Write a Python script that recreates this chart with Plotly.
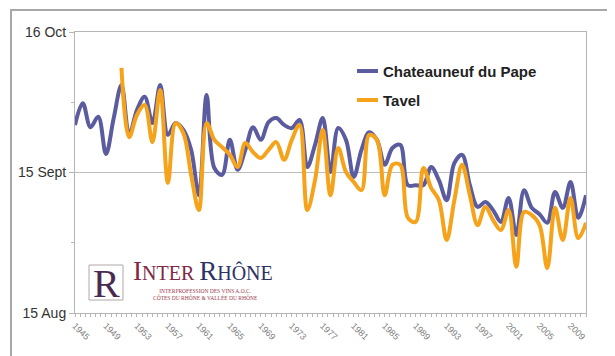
import plotly.graph_objects as go

# Days after 15 August for the start of harvest
years_cdp = list(range(1945, 2012))
chateauneuf = [
    41.5, 46.3, 41.0, 43.3, 35.1, 43.0, 50.3, 39.3, 44.8, 47.7,   # 1945-1954
    41.9, 50.3, 39.3, 41.9, 40.4, 36.0, 26.0, 48.1, 32.0, 30.5,   # 1955-1964
    38.2, 31.6, 36.0, 41.0, 38.2, 42.1, 43.0, 41.5, 40.8, 42.6,   # 1965-1974
    32.2, 37.1, 43.0, 31.1, 40.8, 38.2, 30.0, 36.0, 39.9, 38.2,   # 1975-1984
    32.7, 36.4, 37.1, 28.2, 28.2, 28.2, 32.2, 29.3, 24.9, 33.1,   # 1985-1994
    34.9, 28.2, 23.4, 24.5, 22.7, 20.1, 25.4, 17.2, 27.1, 23.2,   # 1995-2004
    21.8, 19.9, 26.7, 23.2, 28.9, 21.0, 26.0,                     # 2005-2011
]
years_tavel = list(range(1951, 2012))
tavel = [
    54.1, 38.8, 43.7, 45.9,                                       # 1951-1954
    37.7, 49.2, 28.7, 41.9, 39.7, 30.5, 22.7, 41.9, 38.2, 36.6,   # 1955-1964
    34.9, 32.2, 37.5, 35.5, 34.2, 36.0, 37.7, 33.8, 38.2, 41.5,   # 1965-1974
    22.7, 29.3, 40.4, 26.0, 36.4, 31.1, 28.9, 27.1, 39.3, 38.2,   # 1975-1984
    26.0, 32.7, 32.7, 21.0, 20.1, 32.0, 27.6, 24.9, 16.1, 24.9,   # 1985-1994
    32.7, 26.0, 19.4, 23.4, 20.5, 18.3, 22.7, 10.2, 22.3, 21.6,   # 1995-2004
    19.4, 9.9, 23.2, 16.1, 25.4, 16.5, 19.9,                      # 2005-2011
]
series_names = ["Chateauneuf du Pape", "Tavel"]
y_tickvals = [0, 31, 62]
y_ticktext = ["15 Aug", "15 Sept", "16 Oct"]
x_tickvals = list(range(1945, 2010, 4))

BLUE = "#5b5b9f"
ORANGE = "#f6a31c"
colors = [BLUE, ORANGE]

fig = go.Figure()
fig.add_trace(go.Scatter(
    x=years_cdp, y=chateauneuf, mode="lines", name=series_names[0],
    line=dict(color=BLUE, width=4, shape="spline", smoothing=1.0),
))
fig.add_trace(go.Scatter(
    x=years_tavel, y=tavel, mode="lines", name=series_names[1],
    line=dict(color=ORANGE, width=4, shape="spline", smoothing=1.0),
))

# page body adds an 8px offset; plot area should land at x 75..586, y 32..313
fig.update_layout(
    width=615, height=356,
    margin=dict(l=67, r=37, t=24, b=51, autoexpand=False),
    paper_bgcolor="white", plot_bgcolor="white",
    font=dict(family="Liberation Sans, Arial, sans-serif", color="#333"),
    showlegend=False,
    xaxis=dict(
        range=[1945, 2011], tickmode="array", tickvals=x_tickvals,
        ticktext=[str(v) for v in x_tickvals], tickangle=45,
        tickfont=dict(size=9, color="#808080"),
        showgrid=False, zeroline=False, automargin=False,
        showline=True, linecolor="#b5b5b5", linewidth=1, mirror=True,
        ticks="outside", ticklen=3, tickcolor="#b5b5b5",
        minor=dict(dtick=2/3, tick0=1945, ticks="outside", ticklen=3, tickcolor="#b5b5b5", showgrid=False),
        fixedrange=True,
    ),
    yaxis=dict(
        range=[0, 62], tickmode="array", tickvals=y_tickvals, ticktext=y_ticktext,
        tickfont=dict(size=14, color="#333"),
        showgrid=True, gridcolor="#bdbdbd", gridwidth=1, zeroline=False, automargin=False,
        showline=True, linecolor="#b5b5b5", linewidth=1, mirror=True,
        ticks="outside", ticklen=5, tickcolor="#b5b5b5",
        minor=dict(tickvals=[15.5, 46.5], ticks="outside", ticklen=3, tickcolor="#b5b5b5", showgrid=False),
        fixedrange=True,
    ),
)

W, H = 511.0, 281.0
def px(x):
    return (x - 75) / W
def py(y):
    return (313 - y) / H

shapes = [
    # outer frame (cut off at right and bottom)
    dict(type="rect", xref="paper", yref="paper", x0=px(11), x1=px(640), y0=py(380), y1=py(10),
         line=dict(color="#a8a8a8", width=2), fillcolor="rgba(0,0,0,0)", layer="below"),
    # logo box
    dict(type="rect", xref="paper", yref="paper", x0=px(89), x1=px(123), y0=py(300), y1=py(265),
         line=dict(color="#b0a8a8", width=1), fillcolor="white"),
]
ann = []
# legend (manual, to match the original's short keys)
for i, (nm, col) in enumerate(zip(series_names, colors)):
    yy = 71 + 29 * i
    shapes.append(dict(type="line", xref="paper", yref="paper", x0=px(357), x1=px(378),
                       y0=py(yy), y1=py(yy), line=dict(color=col, width=4)))
    ann.append(dict(x=px(381), y=py(yy), xref="paper", yref="paper", text="<b>%s</b>" % nm,
                    showarrow=False, xanchor="left", yanchor="middle",
                    font=dict(size=15, color="#222", family="Liberation Sans, Arial, sans-serif")))
fig.update_layout(shapes=shapes)

ann += [
    dict(x=px(106), y=py(283), xref="paper", yref="paper", text="R", showarrow=False,
         font=dict(family="Liberation Serif, DejaVu Serif, serif", size=40, color="#4a2a4f"),
         xanchor="center", yanchor="middle"),
    dict(x=px(131), y=py(284), xref="paper", yref="paper",
         text="<span style='color:#7e2a45'><span style='font-size:27px'>I</span>NTER</span> "
              "<span style='color:#2d3266'><span style='font-size:27px'>R</span>HÔNE</span>",
         showarrow=False, xanchor="left", yanchor="bottom", yshift=-4,
         font=dict(family="Liberation Serif, DejaVu Serif, serif", size=20, color="#2d3266")),
    dict(x=px(205), y=py(286), xref="paper", yref="paper",
         text="INTERPROFESSION DES VINS A.O.C.<br>CÔTES DU RHÔNE & VALLÉE DU RHÔNE",
         showarrow=False, xanchor="center", yanchor="top",
         font=dict(family="Liberation Serif, DejaVu Serif, serif", size=5.5, color="#9a3a50")),
]
fig.update_layout(annotations=ann)

fig.write_html("out.html")
